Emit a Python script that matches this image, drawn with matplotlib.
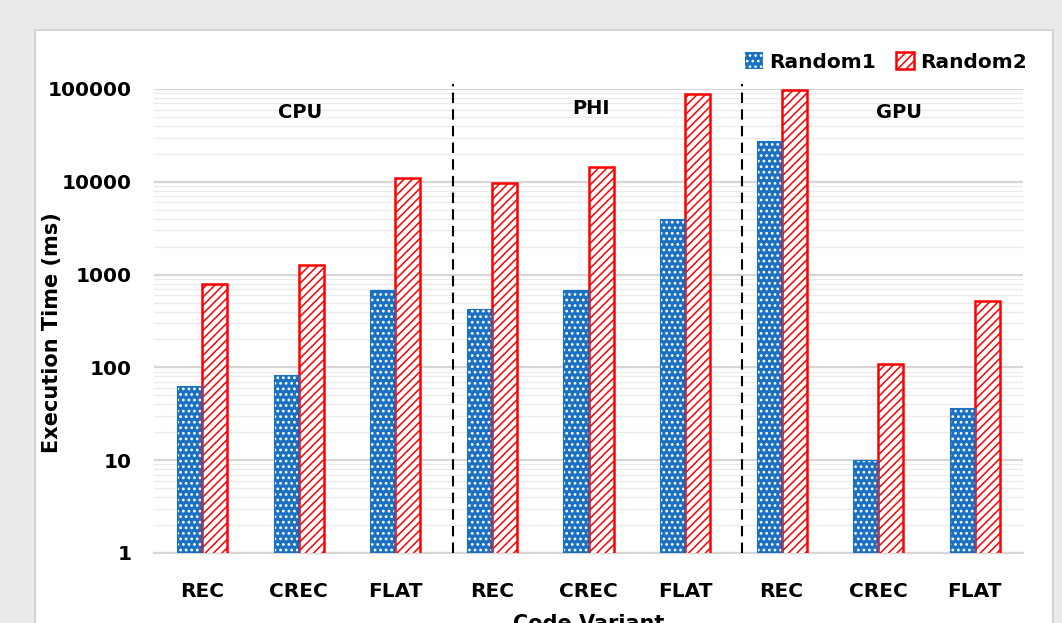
import numpy as np
import matplotlib
matplotlib.use("Agg")
import matplotlib.pyplot as plt
from matplotlib.patches import Rectangle, Patch

# data (ms)
variants = ["REC", "CREC", "FLAT", "REC", "CREC", "FLAT", "REC", "CREC", "FLAT"]
groups = ["CPU", "PHI", "GPU"]
random1 = [63, 83, 680, 425, 680, 3950, 27500, 10.1, 36.5]
random2 = [790, 1270, 11000, 9600, 14500, 88000, 98000, 108, 520]

blue = "#1a70c2"
red = "#ff0000"

plt.rcParams["font.family"] = "DejaVu Sans"
fig = plt.figure(figsize=(10.62, 6.23), dpi=100, facecolor="#eaeaea")

# white chart area
fig.patches.append(Rectangle((35 / 1062, -0.1), (1053 - 35) / 1062, 1.1 - 30 / 623,
                             transform=fig.transFigure, facecolor="white",
                             edgecolor="#d4d4d4", lw=1.5, zorder=-5))

ax = fig.add_axes([154 / 1062, 1 - 553 / 623, (1023 - 154) / 1062, (553 - 89) / 623])
ax.set_facecolor("none")

x = np.arange(len(variants))
w = 0.26

plt.rcParams["hatch.linewidth"] = 1.2
ax.bar(x - w / 2, random1, w, color=blue, edgecolor="white", hatch="...", lw=0,
       label="Random1", zorder=3)
ax.bar(x - w / 2, random1, w, fill=False, edgecolor=blue, lw=0.8, zorder=3.5)
plt.rcParams["hatch.linewidth"] = 1.1
ax.bar(x + w / 2, random2, w, color="white", edgecolor=red, hatch="////", lw=1.8,
       label="Random2", zorder=3)

ax.set_yscale("log")
ax.set_ylim(1, 100000)
ax.set_xlim(-0.5, len(variants) - 0.5)
ax.set_yticks([1, 10, 100, 1000, 10000, 100000])
ax.set_yticklabels(["1", "10", "100", "1000", "10000", "100000"])
ax.yaxis.set_minor_locator(matplotlib.ticker.LogLocator(base=10, subs=np.arange(2, 10)))
ax.yaxis.set_minor_formatter(matplotlib.ticker.NullFormatter())
ax.grid(True, which="major", axis="y", color="#d6d6d6", lw=1.6, zorder=0)
ax.grid(True, which="minor", axis="y", color="#ebebeb", lw=1.0, zorder=0)
ax.set_axisbelow(True)

for s in ["top", "right", "left"]:
    ax.spines[s].set_visible(False)
ax.spines["bottom"].set_color("#d6d6d6")
ax.spines["bottom"].set_linewidth(1.6)

ax.set_xticks(x)
ax.set_xticklabels(variants, fontsize=14.5, fontweight="bold")
ax.tick_params(axis="x", length=0, pad=21)
ax.tick_params(axis="y", which="both", length=0, pad=16, labelsize=14.5)
for t in ax.get_yticklabels():
    t.set_fontweight("bold")

ax.set_ylabel("Execution Time (ms)", fontsize=15, fontweight="bold")
ax.yaxis.set_label_coords(-0.106, 0.474)
ax.set_xlabel("Code Variant", fontsize=15, fontweight="bold", labelpad=9)

# separators between device groups
for xs in [2.6, 5.59]:
    ax.axvline(xs, ymin=0, ymax=1.01, color="black", ls=(0, (5, 3)), lw=1.5,
               clip_on=False, zorder=4)

trans = ax.get_xaxis_transform()
for gx, gy, name in zip([1.01, 4.03, 7.22], [0.95, 0.958, 0.95], groups):
    ax.text(gx, gy, name, transform=trans, ha="center", va="center",
            fontsize=14, fontweight="bold")

handles = [Patch(facecolor=blue, edgecolor="white", hatch="...", lw=0),
           Patch(facecolor="white", edgecolor=red, hatch="////", lw=1.8)]
fig.legend(handles, ["Random1", "Random2"], loc="center right",
           bbox_to_anchor=(1045 / 1062, 1 - 62 / 623), ncol=2, frameon=False,
           prop={"weight": "bold", "size": 14.5},
           handlelength=0.9, handleheight=0.9, handletextpad=0.3, columnspacing=1.0)

fig.savefig("out.png", dpi=100, facecolor=fig.get_facecolor())
